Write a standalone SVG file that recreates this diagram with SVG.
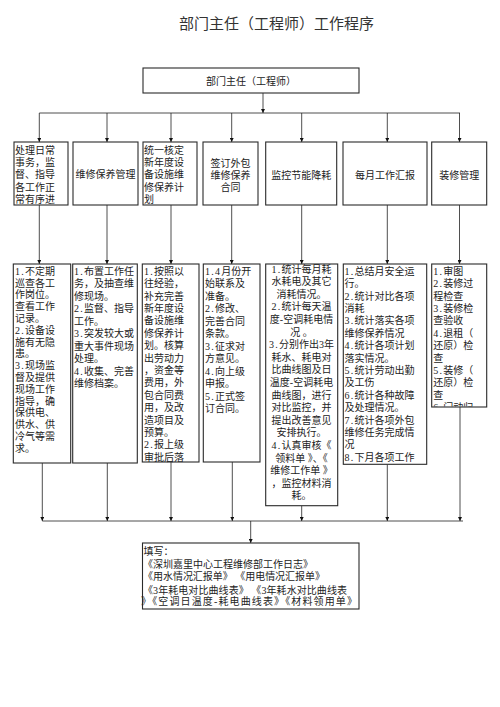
<svg xmlns="http://www.w3.org/2000/svg" width="500" height="707" viewBox="0 0 500 707">
<style>
.box{fill:#fff;stroke:#2a2a2a;stroke-width:1.1}
.t{font-family:"Liberation Serif","Noto Sans CJK SC",serif;font-size:10px;fill:#222}
.c{text-anchor:middle}
.n{letter-spacing:1.25px}
.ttl{font-family:"Liberation Serif","Noto Sans CJK SC",serif;font-size:15px;fill:#333}
.ln{stroke:#222;stroke-width:0.8;fill:none}
.ar{marker-end:url(#arr)}
.pre{white-space:pre}
</style>
<defs>
<marker id="arr" markerUnits="userSpaceOnUse" markerWidth="4" markerHeight="4" refX="4" refY="2" orient="auto">
<path d="M0,0 L4,2 L0,4 z" fill="#111"/>
</marker>
<clipPath id="clip7"><rect x="431.7" y="264" width="55" height="142.5"/></clipPath>
</defs>
<rect width="500" height="707" fill="#fff"/>
<text class="ttl" x="179" y="28.5">部门主任（工程师）工作程序</text>

<g id="connectors">
<path class="ln ar" d="M263,93 V113"/>
<path class="ln" d="M39.3,113 H460"/>
<path class="ln ar" d="M39.3,113 V142"/>
<path class="ln ar" d="M107,113 V142"/>
<path class="ln ar" d="M171,113 V142"/>
<path class="ln ar" d="M231.7,113 V142"/>
<path class="ln ar" d="M301.7,113 V142"/>
<path class="ln ar" d="M387.3,113 V142"/>
<path class="ln ar" d="M459.5,113 V142"/>
<path class="ln ar" d="M39.3,205 V264"/>
<path class="ln ar" d="M107,205 V264"/>
<path class="ln ar" d="M171,205 V264"/>
<path class="ln ar" d="M231.7,205 V264"/>
<path class="ln ar" d="M301.7,205 V264"/>
<path class="ln ar" d="M387.3,205 V264"/>
<path class="ln ar" d="M459.5,205 V264"/>
<path class="ln ar" d="M42.3,463 V521"/>
<path class="ln ar" d="M107.3,463 V521"/>
<path class="ln ar" d="M171,462 V521"/>
<path class="ln ar" d="M232.3,462 V521"/>
<path class="ln ar" d="M301.7,505.7 V521"/>
<path class="ln ar" d="M387.3,464.3 V521"/>
<path class="ln ar" d="M460,407 V521"/>
<path class="ln" d="M42.3,521 H463"/>
<path class="ln ar" d="M250.7,521 V543"/>
</g>

<g id="n-top">
<rect class="box" x="143" y="68" width="216" height="25"/>
<text class="t c" x="251" y="84.8">部门主任（工程师）</text>
</g>

<g id="n-a1">
<rect class="box" x="14" y="142" width="54" height="63"/>
<text class="t"><tspan x="15" y="153.8">处理日常</tspan><tspan x="15" y="166.1">事务，监</tspan><tspan x="15" y="178.4">督、指导</tspan><tspan x="15" y="190.7">各工作正</tspan><tspan x="15" y="203">常有序进</tspan></text>
</g>
<g id="n-a2">
<rect class="box" x="73" y="142" width="65" height="63"/>
<text class="t c" x="105.5" y="178.4">维修保养管理</text>
</g>
<g id="n-a3">
<rect class="box" x="143" y="142" width="54" height="63"/>
<text class="t"><tspan x="144" y="153.8">统一核定</tspan><tspan x="144" y="166.1">新年度设</tspan><tspan x="144" y="178.4">备设施维</tspan><tspan x="144" y="190.7">修保养计</tspan><tspan x="144" y="203">划</tspan></text>
</g>
<g id="n-a4">
<rect class="box" x="203" y="142" width="55" height="63"/>
<text class="t c"><tspan x="230.5" y="167">签订外包</tspan><tspan x="230.5" y="178.8">维修保养</tspan><tspan x="230.5" y="190.5">合同</tspan></text>
</g>
<g id="n-a5">
<rect class="box" x="265.7" y="142" width="71" height="63"/>
<text class="t c" x="301.2" y="178.6">监控节能降耗</text>
</g>
<g id="n-a6">
<rect class="box" x="343" y="142" width="84" height="63"/>
<text class="t c" x="385" y="178.6">每月工作汇报</text>
</g>
<g id="n-a7">
<rect class="box" x="431.7" y="142" width="55" height="63"/>
<text class="t c" x="459.2" y="178.6">装修管理</text>
</g>

<g id="n-b1">
<rect class="box" x="13.3" y="264" width="57.4" height="199"/>
<text class="t"><tspan x="15" y="274.8"><tspan class="n">1.</tspan>不定期</tspan><tspan x="15" y="286.6">巡查各工</tspan><tspan x="15" y="298.4">作岗位。</tspan><tspan x="15" y="310.2">查看工作</tspan><tspan x="15" y="322">记录。</tspan><tspan x="15" y="333.8"><tspan class="n">2.</tspan>设备设</tspan><tspan x="15" y="345.6">施有无隐</tspan><tspan x="15" y="357.4">患。</tspan><tspan x="15" y="369.2"><tspan class="n">3.</tspan>现场监</tspan><tspan x="15" y="381">督及提供</tspan><tspan x="15" y="392.8">现场工作</tspan><tspan x="15" y="404.6">指导，确</tspan><tspan x="15" y="416.4">保供电、</tspan><tspan x="15" y="428.2">供水、供</tspan><tspan x="15" y="440">冷气等需</tspan><tspan x="15" y="451.8">求。</tspan></text>
</g>
<g id="n-b2">
<rect class="box" x="72.7" y="264" width="64.6" height="199"/>
<text class="t"><tspan x="74" y="274.8"><tspan class="n">1.</tspan>布置工作任</tspan><tspan x="74" y="287.3">务，及抽查维</tspan><tspan x="74" y="299.8">修现场。</tspan><tspan x="74" y="312.3"><tspan class="n">2.</tspan>监督、指导</tspan><tspan x="74" y="324.8">工作。</tspan><tspan x="74" y="337.3"><tspan class="n">3.</tspan>突发较大或</tspan><tspan x="74" y="349.8">重大事件现场</tspan><tspan x="74" y="362.3">处理。</tspan><tspan x="74" y="374.8"><tspan class="n">4.</tspan>收集、完善</tspan><tspan x="74" y="387.3">维修档案。</tspan></text>
</g>
<g id="n-b3">
<rect class="box" x="142.3" y="264" width="56.7" height="198"/>
<text class="t"><tspan x="144" y="274.8"><tspan class="n">1.</tspan>按照以</tspan><tspan x="144" y="287.2">往经验，</tspan><tspan x="144" y="299.6">补充完善</tspan><tspan x="144" y="312">新年度设</tspan><tspan x="144" y="324.4">备设施维</tspan><tspan x="144" y="336.8">修保养计</tspan><tspan x="144" y="349.2">划。核算</tspan><tspan x="144" y="361.6">出劳动力</tspan><tspan x="144" y="374">，资金等</tspan><tspan x="144" y="386.4">费用，外</tspan><tspan x="144" y="398.8">包合同费</tspan><tspan x="144" y="411.2">用，及改</tspan><tspan x="144" y="423.6">造项目及</tspan><tspan x="144" y="436">预算。</tspan><tspan x="144" y="448.4"><tspan class="n">2.</tspan>报上级</tspan><tspan x="144" y="460.8">审批后落</tspan></text>
</g>
<g id="n-b4">
<rect class="box" x="203.3" y="264" width="56.7" height="198"/>
<text class="t"><tspan x="205" y="274.8"><tspan class="n">1.4</tspan>月份开</tspan><tspan x="205" y="287.3">始联系及</tspan><tspan x="205" y="299.8">准备。</tspan><tspan x="205" y="312.3"><tspan class="n">2.</tspan>修改、</tspan><tspan x="205" y="324.8">完善合同</tspan><tspan x="205" y="337.3">条款。</tspan><tspan x="205" y="349.8"><tspan class="n">3.</tspan>征求对</tspan><tspan x="205" y="362.3">方意见。</tspan><tspan x="205" y="374.8"><tspan class="n">4.</tspan>向上级</tspan><tspan x="205" y="387.3">申报。</tspan><tspan x="205" y="399.8"><tspan class="n">5.</tspan>正式签</tspan><tspan x="205" y="412.3">订合同。</tspan></text>
</g>
<g id="n-b5">
<rect class="box" x="265.7" y="264" width="72" height="241.7"/>
<text class="t c pre"><tspan x="301.5" y="272.5"><tspan class="n">1.</tspan>统计每月耗</tspan><tspan x="301.5" y="285.1">水耗电及其它</tspan><tspan x="301.5" y="297.7">消耗情况。</tspan><tspan x="301.5" y="310.3"><tspan class="n">2.</tspan>统计每天温</tspan><tspan x="301.5" y="322.9">度-空调耗电情</tspan><tspan x="301.5" y="335.5">况 。</tspan><tspan x="301.5" y="348.1"><tspan class="n">3.</tspan>分别作出3年</tspan><tspan x="301.5" y="360.7">耗水、耗电对</tspan><tspan x="301.5" y="373.3">比曲线图及日</tspan><tspan x="301.5" y="385.9">温度-空调耗电</tspan><tspan x="301.5" y="398.5">曲线图，进行</tspan><tspan x="301.5" y="411.1">对比监控，并</tspan><tspan x="301.5" y="423.7">提出改善意见</tspan><tspan x="301.5" y="436.3">安排执行。</tspan><tspan x="301.5" y="448.9"><tspan class="n">4.</tspan>认真审核《</tspan><tspan x="301.5" y="461.5">领料单 》、《</tspan><tspan x="301.5" y="474.1">维修工作单 》</tspan><tspan x="301.5" y="486.7">，监控材料消</tspan><tspan x="301.5" y="499.3">耗。</tspan></text>
</g>
<g id="n-b6">
<rect class="box" x="343.3" y="264" width="83.4" height="200.3"/>
<text class="t"><tspan x="344.5" y="274.8"><tspan class="n">1.</tspan>总结月安全运</tspan><tspan x="344.5" y="287.2">行。</tspan><tspan x="344.5" y="299.6"><tspan class="n">2.</tspan>统计对比各项</tspan><tspan x="344.5" y="312">消耗</tspan><tspan x="344.5" y="324.4"><tspan class="n">3.</tspan>统计落实各项</tspan><tspan x="344.5" y="336.8">维修保养情况</tspan><tspan x="344.5" y="349.2"><tspan class="n">4.</tspan>统计各项计划</tspan><tspan x="344.5" y="361.6">落实情况。</tspan><tspan x="344.5" y="374"><tspan class="n">5.</tspan>统计劳动出勤</tspan><tspan x="344.5" y="386.4">及工伤</tspan><tspan x="344.5" y="398.8"><tspan class="n">6.</tspan>统计各种故障</tspan><tspan x="344.5" y="411.2">及处理情况。</tspan><tspan x="344.5" y="423.6"><tspan class="n">7.</tspan>统计各项外包</tspan><tspan x="344.5" y="436">维修任务完成情</tspan><tspan x="344.5" y="448.4">况</tspan><tspan x="344.5" y="460.8"><tspan class="n">8.</tspan>下月各项工作</tspan></text>
</g>
<g id="n-b7">
<rect class="box" x="431.7" y="264" width="55" height="143"/>
<text class="t" clip-path="url(#clip7)"><tspan x="433.3" y="274.8"><tspan class="n">1.</tspan>审图</tspan><tspan x="433.3" y="287.2"><tspan class="n">2.</tspan>装修过</tspan><tspan x="433.3" y="299.6">程检查</tspan><tspan x="433.3" y="312"><tspan class="n">3.</tspan>装修检</tspan><tspan x="433.3" y="324.4">查验收</tspan><tspan x="433.3" y="336.8"><tspan class="n">4.</tspan>退租（</tspan><tspan x="433.3" y="349.2">还原）检</tspan><tspan x="433.3" y="361.6">查</tspan><tspan x="433.3" y="374"><tspan class="n">5.</tspan>装修（</tspan><tspan x="433.3" y="386.4">还原）检</tspan><tspan x="433.3" y="398.8">查</tspan><tspan x="433.3" y="411.2"><tspan class="n">6.</tspan>门动归</tspan></text>
</g>

<g id="n-bottom">
<rect class="box" x="142.5" y="543" width="216.5" height="66"/>
<text class="t pre"><tspan x="143.5" y="554.8">填写：</tspan><tspan x="143" y="567.8">《深圳嘉里中心工程维修部工作日志》</tspan><tspan x="143" y="580.3" textLength="182" lengthAdjust="spacing">《用水情况汇报单》 《用电情况汇报单》</tspan><tspan x="143" y="594" textLength="204" lengthAdjust="spacing">《3年耗电对比曲线表》 《3年耗水对比曲线表</tspan><tspan x="141" y="605.3" textLength="216" lengthAdjust="spacing">》《空调日温度-耗电曲线表》《材料领用单》</tspan></text>
</g>
</svg>
